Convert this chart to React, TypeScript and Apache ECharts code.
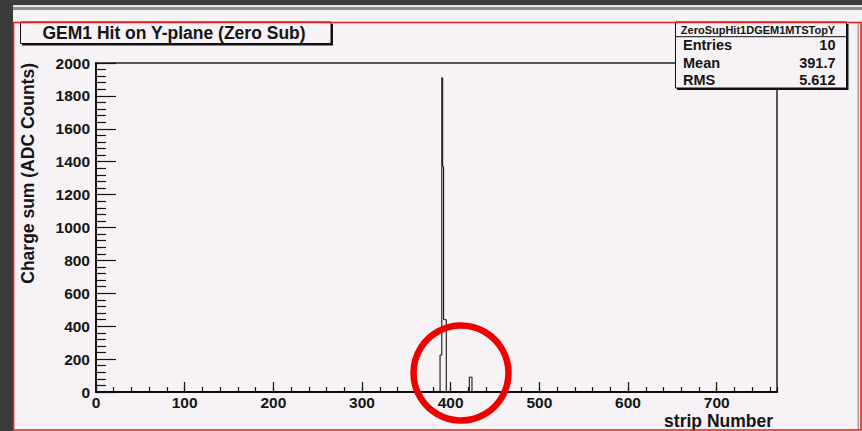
import React, { useEffect, useRef } from "react";
import * as echarts from "echarts";

// Zero-suppressed hits on the Y plane: strip number and summed charge
const STRIPS = [388, 389, 390, 391, 392, 393, 394, 421, 422, 423];
const CHARGES = [225, 225, 1910, 1370, 440, 440, 440, 90, 90, 90];

const N_STRIPS = 768;
const Y_MAX = 2000;
const X_MAJOR = 100;
const X_MINOR = 20;
const Y_MAJOR = 200;

const HIST_TITLE = "GEM1 Hit on Y-plane (Zero Sub)";
const STATS_NAME = "ZeroSupHit1DGEM1MTSTopY";
const STATS_LABELS = ["Entries", "Mean", "RMS"];
const STATS_VALUES = ["10", "391.7", "5.612"];
const X_TITLE = "strip Number";
const Y_TITLE = "Charge sum (ADC Counts)";

const FONT = "'Liberation Sans', Arial, Helvetica, sans-serif";
const CANVAS_BG = "#f6f2f5";
const INK = "#151515";

function buildOutline(): number[][] {
  const contents = new Array(N_STRIPS).fill(0);
  STRIPS.forEach((s, i) => {
    contents[s] += CHARGES[i];
  });
  const pts = contents.map((v, i) => [i, v]);
  pts.push([N_STRIPS, 0]);
  return pts;
}

export default function App() {
  const ref = useRef<HTMLDivElement>(null);

  useEffect(() => {
    if (!ref.current) return;
    const chart = echarts.init(ref.current, undefined, { renderer: "svg" });

    const statsRowsY = [45, 62.7, 80];
    const statsGraphics: any[] = [];
    STATS_LABELS.forEach((label, i) => {
      statsGraphics.push({
        type: "text",
        x: 683,
        y: statsRowsY[i],
        z: 110,
        style: {
          text: label,
          font: `bold 14.5px ${FONT}`,
          fill: INK,
          align: "left",
          verticalAlign: "middle",
        },
      });
      statsGraphics.push({
        type: "text",
        x: 835.5,
        y: statsRowsY[i],
        z: 110,
        style: {
          text: STATS_VALUES[i],
          font: `bold 14.5px ${FONT}`,
          fill: INK,
          align: "right",
          verticalAlign: "middle",
        },
      });
    });

    const tickStyle = { color: INK, width: 1.2 };

    chart.setOption({
      animation: false,
      backgroundColor: CANVAS_BG,
      grid: {
        left: 96,
        top: 63,
        right: 85,
        bottom: 39,
        show: true,
        borderColor: "#222",
        borderWidth: 1.5,
        backgroundColor: "transparent",
      },
      xAxis: [
        {
          type: "value",
          min: 0,
          max: N_STRIPS,
          interval: X_MAJOR,
          position: "bottom",
          axisLine: { show: true, onZero: false, lineStyle: { color: INK, width: 2 } },
          axisTick: { show: true, inside: true, length: 10, lineStyle: tickStyle },
          axisLabel: {
            show: true,
            fontFamily: FONT,
            fontWeight: "bold",
            fontSize: 15.5,
            lineHeight: 16,
            color: INK,
            margin: 2,
            showMaxLabel: false,
            formatter: (v: number) => (v % X_MAJOR === 0 ? String(v) : ""),
          },
          splitLine: { show: false },
        },
        {
          type: "value",
          min: 0,
          max: N_STRIPS,
          interval: X_MINOR,
          position: "bottom",
          axisLine: { show: false },
          axisTick: { show: true, inside: true, length: 5, lineStyle: tickStyle },
          axisLabel: { show: false },
          splitLine: { show: false },
        },
      ],
      yAxis: {
        type: "value",
        min: 0,
        max: Y_MAX,
        interval: Y_MAJOR,
        axisLine: { show: true, onZero: false, lineStyle: { color: INK, width: 2 } },
        axisTick: { show: true, inside: true, length: 20, lineStyle: tickStyle },
        minorTick: { show: true, splitNumber: 5, length: 10, lineStyle: tickStyle },
        axisLabel: {
          fontFamily: FONT,
          fontWeight: "bold",
          fontSize: 15.5,
          color: INK,
          margin: 6,
          formatter: (v: number) => String(v),
        },
        splitLine: { show: false },
        minorSplitLine: { show: false },
      },
      series: [
        {
          type: "line",
          xAxisIndex: 0,
          yAxisIndex: 0,
          step: "end",
          data: buildOutline(),
          symbol: "none",
          lineStyle: { color: "#000", width: 1 },
          z: 3,
        },
      ],
      graphic: [
        // dark surround
        { type: "rect", shape: { x: 0, y: 0, width: 13, height: 431 }, style: { fill: "#3b3b3b" }, z: 100 },
        { type: "rect", shape: { x: 0, y: 0, width: 862, height: 5 }, style: { fill: "#3b3b3b" }, z: 100 },
        { type: "rect", shape: { x: 13, y: 5, width: 849, height: 2 }, style: { fill: "#e4e4e4" }, z: 100 },
        { type: "rect", shape: { x: 13, y: 7, width: 849, height: 3 }, style: { fill: "#8e8e8e" }, z: 100 },
        { type: "rect", shape: { x: 857.5, y: 22, width: 1.5, height: 408 }, style: { fill: "#a0a0a0" }, z: 100 },
        // title pave
        { type: "rect", shape: { x: 22, y: 24, width: 311, height: 21.5 }, style: { fill: "#111" }, z: 105 },
        { type: "rect", shape: { x: 20.5, y: 22, width: 310.5, height: 21.5 }, style: { fill: CANVAS_BG, stroke: "#111", lineWidth: 1 }, z: 106 },
        {
          type: "text",
          x: 174,
          y: 32.5,
          z: 110,
          style: {
            text: HIST_TITLE,
            font: `bold 17.5px ${FONT}`,
            fill: INK,
            align: "center",
            verticalAlign: "middle",
          },
        },
        // statistics box
        { type: "rect", shape: { x: 677, y: 24, width: 171.5, height: 66 }, style: { fill: "#111" }, z: 105 },
        { type: "rect", shape: { x: 675.5, y: 22, width: 171, height: 66 }, style: { fill: CANVAS_BG, stroke: "#111", lineWidth: 1 }, z: 106 },
        { type: "line", shape: { x1: 675.5, y1: 36.7, x2: 846.5, y2: 36.7 }, style: { stroke: "#111", lineWidth: 1 }, z: 107 },
        {
          type: "text",
          x: 758,
          y: 30,
          z: 110,
          style: {
            text: STATS_NAME,
            font: `bold 11px ${FONT}`,
            fill: INK,
            align: "center",
            verticalAlign: "middle",
          },
        },
        ...statsGraphics,
        // axis titles
        {
          type: "text",
          x: 773,
          y: 421,
          z: 110,
          style: {
            text: X_TITLE,
            font: `bold 17.5px ${FONT}`,
            fill: INK,
            align: "right",
            verticalAlign: "middle",
          },
        },
        {
          type: "text",
          x: 28,
          y: 63,
          rotation: Math.PI / 2,
          z: 110,
          style: {
            text: Y_TITLE,
            font: `bold 17.5px ${FONT}`,
            fill: INK,
            align: "right",
            verticalAlign: "middle",
          },
        },
        // canvas border
        {
          type: "rect",
          shape: { x: 13.5, y: 22.5, width: 847.5, height: 407.5 },
          style: { fill: "none", stroke: "#e0201c", lineWidth: 1.6 },
          z: 120,
        },
        // highlight ring around the small cluster
        {
          type: "circle",
          shape: { cx: 461, cy: 373, r: 47.5 },
          style: { fill: "none", stroke: "#ee0000", lineWidth: 6.5 },
          z: 125,
        },
      ],
    });

    return () => chart.dispose();
  }, []);

  return (
    <div
      ref={ref}
      style={{ position: "fixed", left: 0, top: 0, width: 862, height: 431 }}
    />
  );
}
